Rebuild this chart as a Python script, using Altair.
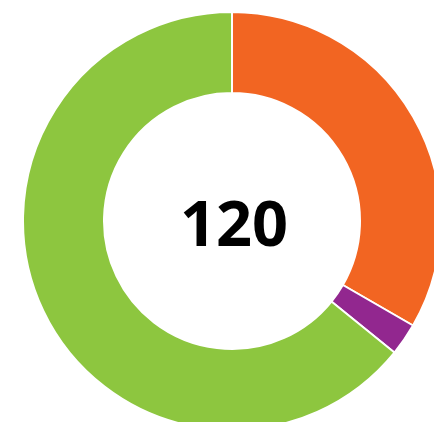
import altair as alt
import pandas as pd

categories = ["Orange", "Purple", "Green"]
values = [40, 3, 77]
colors = ["#F26522", "#92278F", "#8DC63F"]
center_label = ["120"]

df = pd.DataFrame({"category": categories, "value": values, "order": list(range(len(categories)))})

arc = alt.Chart(df).mark_arc(
    innerRadius=128, outerRadius=209, stroke="white", strokeWidth=2
).encode(
    theta=alt.Theta("value:Q", stack=True),
    color=alt.Color("category:N", scale=alt.Scale(domain=categories, range=colors), legend=None),
    order=alt.Order("order:Q"),
    x=alt.value(224),
    y=alt.value(213),
)

text = alt.Chart(pd.DataFrame({"t": center_label})).mark_text(
    font="Open Sans", fontSize=63, fontWeight="bold", color="black", baseline="middle", align="center"
).encode(
    text="t:N",
    x=alt.value(226),
    y=alt.value(219),
)

chart = alt.layer(arc, text).properties(
    width=426, height=414, padding=0, autosize=alt.AutoSizeParams(type="none")
).configure_view(stroke=None)

chart.save("out.html", embed_options={"renderer": "svg", "actions": False})
